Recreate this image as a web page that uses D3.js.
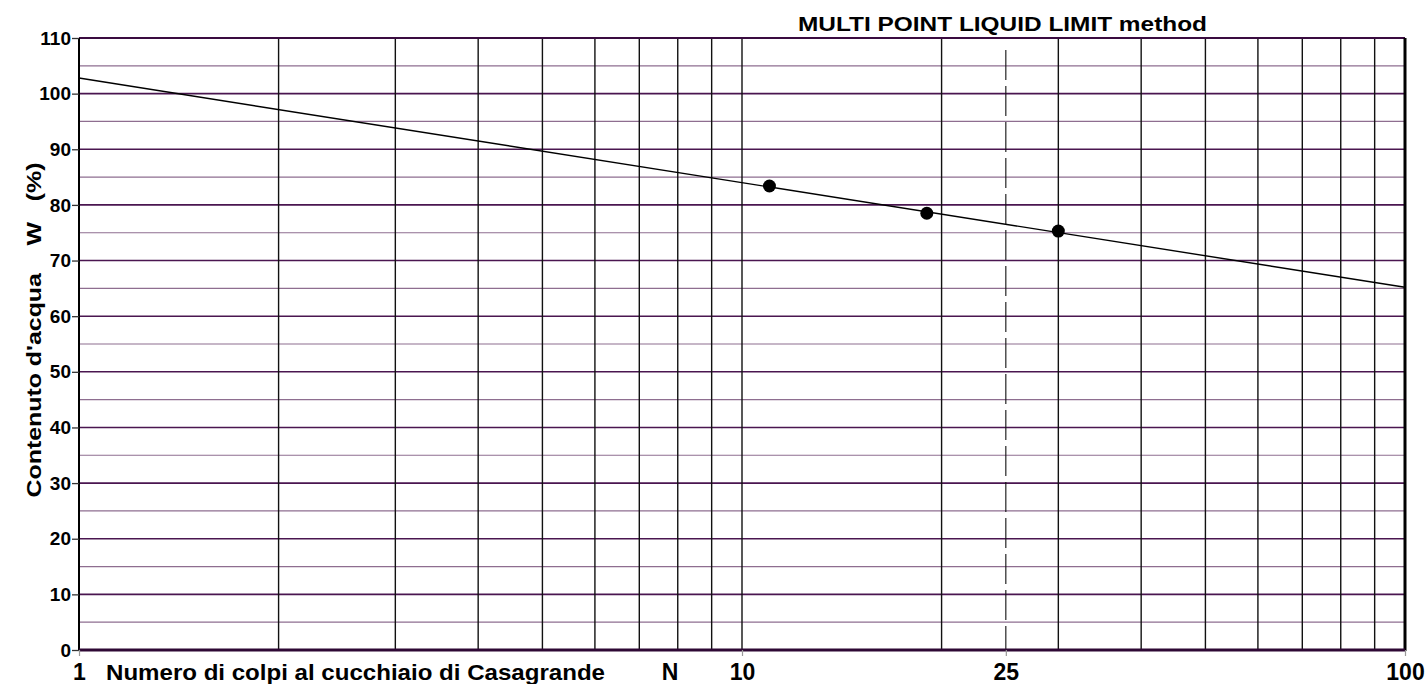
<!DOCTYPE html>
<html>
<head>
<meta charset="utf-8">
<script src="https://cdn.jsdelivr.net/npm/d3@7"></script>
<style>
  body { margin: 0; background: #fff; }
  svg { display: block; }
  text { font-family: "Liberation Sans", Arial, sans-serif; font-weight: bold; fill: #000; }
</style>
</head>
<body>
<svg id="chart" width="1426" height="684"></svg>
<script>
// measured points (blows N, water content W %)
const blows = [11, 19, 30];
const water = [83.4, 78.5, 75.3];

// fitted flow line end points
const lineN = [1, 100];
const lineW = [102.8, 65.2];

// axis ticks
const yTicks = [0, 10, 20, 30, 40, 50, 60, 70, 80, 90, 100, 110];
const yMinor = [5, 15, 25, 35, 45, 55, 65, 75, 85, 95, 105];
const xGrid = [2, 3, 4, 5, 6, 7, 8, 9, 10, 20, 30, 40, 50, 60, 70, 80, 90];
const xLabels = [1, 10, 25, 100];
const liquidLimitN = 25;

const svg = d3.select("#chart");
const plotL = 79, plotR = 1405, plotT = 38, plotB = 650;

const x = d3.scaleLog().domain([1, 100]).range([plotL, plotR]);
const y = d3.scaleLinear().domain([0, 110]).range([plotB, plotT]);

// horizontal grid, minor then major
svg.append("g").selectAll("line").data(yMinor).join("line")
  .attr("x1", plotL).attr("x2", plotR)
  .attr("y1", d => y(d)).attr("y2", d => y(d))
  .attr("stroke", "#8e6e90").attr("stroke-width", 1.2);

svg.append("g").selectAll("line").data(yTicks.slice(1)).join("line")
  .attr("x1", plotL).attr("x2", plotR)
  .attr("y1", d => y(d)).attr("y2", d => y(d))
  .attr("stroke", "#4a1650").attr("stroke-width", 1.6);

// vertical grid
svg.append("g").selectAll("line").data(xGrid).join("line")
  .attr("x1", d => x(d)).attr("x2", d => x(d))
  .attr("y1", plotT).attr("y2", plotB)
  .attr("stroke", "#111").attr("stroke-width", 1.4);

// N = 25 dashed line
svg.append("line")
  .attr("x1", x(liquidLimitN)).attr("x2", x(liquidLimitN))
  .attr("y1", plotT + 12).attr("y2", plotB)
  .attr("stroke", "#111").attr("stroke-width", 1.1)
  .attr("stroke-dasharray", "30,6");

// frame
svg.append("line").attr("x1", plotL).attr("x2", plotR).attr("y1", plotT).attr("y2", plotT)
  .attr("stroke", "#3a0c40").attr("stroke-width", 2);
svg.append("line").attr("x1", plotL).attr("x2", plotL).attr("y1", plotT).attr("y2", plotB)
  .attr("stroke", "#000").attr("stroke-width", 2);
svg.append("line").attr("x1", plotR).attr("x2", plotR).attr("y1", plotT).attr("y2", plotB + 1)
  .attr("stroke", "#000").attr("stroke-width", 3);
svg.append("line").attr("x1", plotL).attr("x2", plotR).attr("y1", plotB).attr("y2", plotB)
  .attr("stroke", "#2e0834").attr("stroke-width", 3.2);

// y axis
const yAxis = svg.append("g")
  .attr("transform", `translate(${plotL},0)`)
  .call(d3.axisLeft(y).tickValues(yTicks).tickSize(7).tickPadding(1));
yAxis.select(".domain").remove();
yAxis.selectAll(".tick line").attr("stroke", "#333").attr("stroke-width", 1.3);
yAxis.selectAll(".tick text")
  .style("font-size", "19px").attr("fill", "#000");

// x axis
const xAxis = svg.append("g")
  .attr("transform", `translate(0,${plotB})`)
  .call(d3.axisBottom(x).tickValues(xLabels).tickFormat(d3.format("d")).tickSize(6));
xAxis.select(".domain").remove();
xAxis.selectAll(".tick line").attr("stroke", "#999").attr("stroke-width", 1.2);
xAxis.selectAll(".tick text")
  .style("font-size", "23px").attr("y", 30).attr("dy", 0).attr("fill", "#000");

// flow line
const pts = lineN.map((n, i) => [n, lineW[i]]);
svg.append("path")
  .datum(pts)
  .attr("d", d3.line().x(d => x(d[0])).y(d => y(d[1])))
  .attr("fill", "none").attr("stroke", "#000").attr("stroke-width", 1.4);

// points
svg.append("g").selectAll("circle").data(blows).join("circle")
  .attr("cx", d => x(d))
  .attr("cy", (d, i) => y(water[i]))
  .attr("r", 6.5)
  .attr("fill", "#000");

// titles
svg.append("text")
  .attr("x", 798).attr("y", 31)
  .attr("textLength", 409).attr("lengthAdjust", "spacingAndGlyphs")
  .style("font-size", "21px")
  .text("MULTI POINT LIQUID LIMIT method");

svg.append("text")
  .attr("x", 106).attr("y", 680)
  .attr("textLength", 499).attr("lengthAdjust", "spacingAndGlyphs")
  .style("font-size", "22px")
  .text("Numero di colpi al cucchiaio di Casagrande");

svg.append("text")
  .attr("x", 670).attr("y", 680)
  .attr("text-anchor", "middle")
  .style("font-size", "23px")
  .text("N");

svg.append("text")
  .attr("transform", "translate(41,330) rotate(-90)")
  .attr("text-anchor", "middle")
  .attr("textLength", 335).attr("lengthAdjust", "spacingAndGlyphs")
  .style("font-size", "21px")
  .style("white-space", "pre")
  .text("Contenuto d'acqua    W   (%)");
</script>
</body>
</html>
